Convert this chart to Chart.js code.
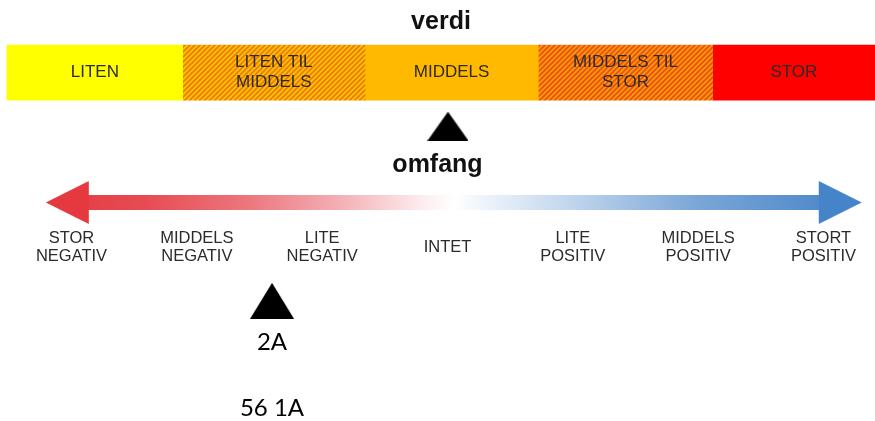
<!DOCTYPE html>
<html><head><meta charset="utf-8">
<script src="https://cdn.jsdelivr.net/npm/chart.js@4.4.0/dist/chart.umd.min.js"></script>
<style>
html,body{margin:0;padding:0;background:#fff;}
#wrap{position:relative;width:875px;height:421px;overflow:hidden;background:#fff;}
canvas{position:absolute;left:0;}
</style></head><body>
<div id="wrap">
<canvas id="cA" width="875" height="153" style="top:0px"></canvas>
<canvas id="cB" width="875" height="149" style="top:140px"></canvas>
<canvas id="cC" width="875" height="151" style="top:270px"></canvas>
</div>
<script>
// ---------- data ----------
const verdiCategories = ['verdi', 'markør'];
const verdiLabels = [['LITEN'], ['LITEN TIL', 'MIDDELS'], ['MIDDELS'], ['MIDDELS TIL', 'STOR'], ['STOR']];
const verdiWidths = [20.24, 21.0, 19.97, 20.09, 18.70];   // share of the bar, %
const verdiMarker = 50.8;                                  // position on the verdi bar, %
const omfangLabels = [['STOR', 'NEGATIV'], ['MIDDELS', 'NEGATIV'], ['LITE', 'NEGATIV'], ['INTET'], ['LITE', 'POSITIV'], ['MIDDELS', 'POSITIV'], ['STORT', 'POSITIV']];
const omfangValues = [-3, -2, -1, 0, 1, 2, 3];
const omfangMarker = -1.4;
const arrowBase = [-2.87, 2.97];
const markerTexts = ['2A', '56 1A'];

// ---------- styles ----------
const SANS = '"Liberation Sans", Arial, sans-serif';
Chart.defaults.font.family = SANS;

function hatch(base, stripe) {
  const p = 5, c = document.createElement('canvas');
  c.width = p; c.height = p;
  const x = c.getContext('2d');
  x.fillStyle = base; x.fillRect(0, 0, p, p);
  x.strokeStyle = stripe; x.lineWidth = 1.8;
  x.beginPath();
  x.moveTo(-1, p + 1); x.lineTo(p + 1, -1);
  x.moveTo(-1, 1); x.lineTo(1, -1);
  x.moveTo(p - 1, p + 1); x.lineTo(p + 1, p - 1);
  x.stroke();
  return x.createPattern(c, 'repeat');
}
function triangle(w, h, color) {
  const c = document.createElement('canvas');
  c.width = w; c.height = h;
  const x = c.getContext('2d');
  x.fillStyle = color;
  x.beginPath(); x.moveTo(w / 2, 0); x.lineTo(w, h); x.lineTo(0, h); x.closePath(); x.fill();
  return c;
}
function head(dir, color) {
  const w = 41, h = 43, c = document.createElement('canvas');
  c.width = 2 * w + 2; c.height = h;
  const x = c.getContext('2d');
  x.fillStyle = color;
  x.beginPath();
  if (dir < 0) { x.moveTo(0, h / 2); x.lineTo(w + 2, 0); x.lineTo(w + 2, h); }
  else { x.moveTo(2 * w + 2, h / 2); x.lineTo(w, 0); x.lineTo(w, h); }
  x.closePath(); x.fill();
  return c;
}
const verdiColors = ['#FFFF00', hatch('#FFC400', '#EE7A0A'), '#FFBA00', hatch('#FF9C00', '#E8501A'), '#FF0000'];

// ---------- chart A : verdi ----------
const barLabelPlugin = {
  id: 'barLabels',
  afterDatasetsDraw(chart) {
    const ctx = chart.ctx;
    ctx.save();
    ctx.font = '17px ' + SANS;
    ctx.fillStyle = '#2b2b2b';
    ctx.textAlign = 'center';
    ctx.textBaseline = 'middle';
    verdiLabels.forEach((lines, i) => {
      const el = chart.getDatasetMeta(i).data[0];
      const p = el.getCenterPoint();
      lines.forEach((t, j) => ctx.fillText(t, p.x, p.y + (j - (lines.length - 1) / 2) * 20));
    });
    ctx.restore();
  }
};
const dsA = verdiWidths.map((w, i) => ({
  type: 'bar', data: [w, null], backgroundColor: verdiColors[i], borderWidth: 0,
  barThickness: 55, clip: false, stack: 'v'
}));
dsA.push({
  type: 'scatter', data: [{ x: verdiMarker, y: verdiCategories[1] }],
  pointStyle: triangle(41, 29, '#000'), pointRadius: 10, clip: false, showLine: false
});
new Chart(document.getElementById('cA'), {
  type: 'bar',
  data: { labels: verdiCategories, datasets: dsA },
  options: {
    indexAxis: 'y', responsive: false, animation: false, events: [],
    layout: { autoPadding: false, padding: { left: 7, right: 0, top: 0, bottom: 0 } },
    plugins: {
      legend: { display: false }, tooltip: { enabled: false },
      title: { display: true, text: 'verdi', color: '#111', font: { size: 25, weight: 'bold' }, padding: { top: 7, bottom: 8.75 } }
    },
    scales: {
      x: { type: 'linear', min: 0, max: 100, stacked: true, display: false },
      y: { type: 'category', stacked: true, offset: true, display: false }
    }
  },
  plugins: [barLabelPlugin]
});

// ---------- chart B : omfang arrow ----------
function shaftGradient(chart) {
  if (!chart.chartArea) return '#ddd';
  const xs = chart.scales.x;
  const x0 = xs.getPixelForValue(arrowBase[0]) - 41, x1 = xs.getPixelForValue(arrowBase[1]) + 41;
  const g = chart.ctx.createLinearGradient(x0, 0, x1, 0);
  g.addColorStop(0, 'rgb(229,57,64)');
  g.addColorStop(0.12, 'rgb(231,75,82)');
  g.addColorStop(0.25, 'rgb(236,120,126)');
  g.addColorStop(0.36, 'rgb(243,176,181)');
  g.addColorStop(0.46, 'rgb(252,236,238)');
  g.addColorStop(0.5, 'rgb(255,255,255)');
  g.addColorStop(0.54, 'rgb(236,243,250)');
  g.addColorStop(0.65, 'rgb(190,212,236)');
  g.addColorStop(0.8, 'rgb(122,166,215)');
  g.addColorStop(1, 'rgb(68,130,200)');
  return g;
}
const X_MIN = -3.5705, X_MAX = 3.4111;
new Chart(document.getElementById('cB'), {
  type: 'scatter',
  data: {
    datasets: [{
      data: [{ x: arrowBase[0], y: 0.5 }, { x: arrowBase[1], y: 0.5 }],
      showLine: true, borderWidth: 15, borderCapStyle: 'butt',
      borderColor: c => shaftGradient(c.chart),
      pointStyle: [head(-1, '#E5393F'), head(1, '#4584C8')], pointRadius: 10, clip: false
    }]
  },
  options: {
    responsive: false, animation: false, events: [],
    layout: { autoPadding: false, padding: 0 },
    plugins: {
      legend: { display: false }, tooltip: { enabled: false },
      title: { display: true, text: 'omfang', color: '#111', font: { size: 25, weight: 'bold' }, padding: { top: 10, bottom: 2 } }
    },
    scales: {
      x: {
        type: 'linear', min: X_MIN, max: X_MAX,
        grid: { display: false, drawTicks: false }, border: { display: false },
        afterBuildTicks: s => { s.ticks = omfangValues.map(v => ({ value: v })); },
        afterFit: s => { s.paddingLeft = 0; s.paddingRight = 0; },
        ticks: {
          autoSkip: false, maxRotation: 0, minRotation: 0, padding: 15, crossAlign: 'center',
          color: '#2b2b2b', font: { size: 16.5, lineHeight: 18 / 16.5 },
          callback: (v, i) => omfangLabels[i]
        }
      },
      y: { type: 'linear', min: 0, max: 1, display: false }
    }
  }
});

// ---------- chart C : omfang marker ----------
const markerTextPlugin = {
  id: 'markerTexts',
  afterDatasetsDraw(chart) {
    const el = chart.getDatasetMeta(0).data[0];
    const ctx = chart.ctx;
    ctx.save();
    ctx.font = '24px Lato, "Open Sans", sans-serif';
    ctx.fillStyle = '#000';
    ctx.textAlign = 'center';
    ctx.textBaseline = 'middle';
    ctx.fillText(markerTexts[0], el.x, el.y + 41);
    ctx.fillText(markerTexts[1], el.x, el.y + 107);
    ctx.restore();
  }
};
new Chart(document.getElementById('cC'), {
  type: 'scatter',
  data: { datasets: [{ data: [{ x: omfangMarker, y: 0 }], pointStyle: triangle(44, 36, '#000'), pointRadius: 10, clip: false }] },
  options: {
    responsive: false, animation: false, events: [],
    layout: { autoPadding: false, padding: 0 },
    plugins: { legend: { display: false }, tooltip: { enabled: false } },
    scales: {
      x: { type: 'linear', min: X_MIN, max: X_MAX, display: false },
      y: { type: 'linear', min: -3.9, max: 1, display: false }
    }
  },
  plugins: [markerTextPlugin]
});
</script>
</body></html>
